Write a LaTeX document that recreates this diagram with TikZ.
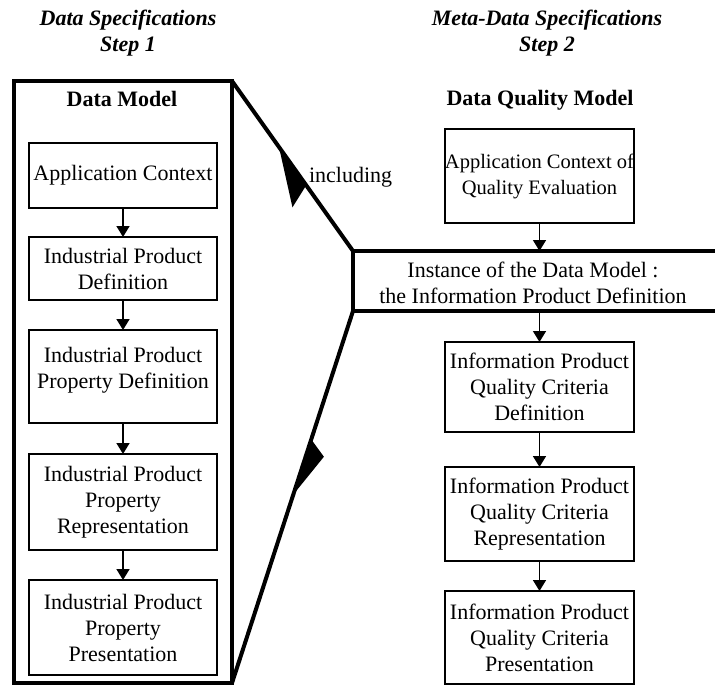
\documentclass[tikz,border=0pt]{standalone}
\usepackage{fontspec}
\setmainfont{Liberation Serif}
\usetikzlibrary{arrows.meta,decorations.markings}
\begin{document}
\begin{tikzpicture}[x=1pt,y=-1pt,
  every node/.style={font=\fontsize{22}{26}\selectfont, align=center, inner sep=0pt, outer sep=0pt},
  box/.style={draw, line width=1.6pt, minimum width=188pt},
  thickbox/.style={draw, line width=4pt},
  flow/.style={line width=1.6pt, -{Triangle[length=11pt,width=13pt]}},
  link/.style={line width=4pt},
  title/.style={font=\fontsize{22}{26}\selectfont\bfseries\itshape},
  heading/.style={font=\fontsize{22}{26}\selectfont\bfseries},
]
\clip (0,0) rectangle (715,689);
% titles
\node[title] (t1) at (128,33) {Data Specifications\\Step 1};
\node[title] (t2) at (547,33) {Meta-Data Specifications\\Step 2};
% left: data model
\node[thickbox, minimum width=218pt, minimum height=602pt] (dm) at (123,382) {};
\node[heading] (dmh) at (122,99) {Data Model};
\node[box, minimum height=65pt] (b1) at (123,175.5) {Application Context};
\node[box, minimum height=63pt] (b2) at (123,268.5) {Industrial Product\\Definition};
\node[box, minimum height=93pt, text depth=17pt] (b3) at (123,376.5) {Industrial Product\\Property Definition};
\node[box, minimum height=96pt] (b4) at (123,502) {Industrial Product\\Property\\Representation};
\node[box, minimum height=95pt] (b5) at (123,627.5) {Industrial Product\\Property\\Presentation};
% right: data quality model
\node[heading] (dqh) at (540,100) {Data Quality Model};
\node[box, minimum width=189pt, minimum height=94pt, font=\fontsize{20.5}{26}\selectfont] (q0) at (539.5,176) {Application Context of\\Quality Evaluation};
\node[thickbox, minimum width=367pt, minimum height=60pt] (inst) at (536.5,281) {};
\node (instt) at (533,283) {Instance of the Data Model :\\the Information Product Definition};
\node[box, minimum width=189pt, minimum height=90pt] (q1) at (539.5,387) {Information Product\\Quality Criteria\\Definition};
\node[box, minimum width=189pt, minimum height=94pt] (q2) at (539.5,514) {Information Product\\Quality Criteria\\Representation};
\node[box, minimum width=189pt, minimum height=93pt] (q3) at (539.5,637.5) {Information Product\\Quality Criteria\\Presentation};
% flows
\draw[flow] (b1) -- (b2);
\draw[flow] (b2) -- (b3);
\draw[flow] (b3) -- (b4);
\draw[flow] (b4) -- (b5);
\draw[flow] (q0) -- (inst.north -| q0);
\draw[flow] (inst.south -| q1) -- (q1);
\draw[flow] (q1) -- (q2);
\draw[flow] (q2) -- (q3);
% links between models
\draw[link, postaction={decorate}, decoration={markings, mark=at position 81pt with {\fill (0pt,0pt) -- (57pt,-24pt) -- (47pt,0pt) -- cycle;}}] (dm.north east) -- (inst.north west);
\draw[link, postaction={decorate}, decoration={markings, mark=at position 135pt with {\fill (0pt,0pt) -- (12.6pt,17.4pt) -- (58pt,0pt) -- cycle;}}] (inst.south west) -- (dm.south east);
\node[anchor=west] (inc) at (309,177) {including};
\end{tikzpicture}
\end{document}
